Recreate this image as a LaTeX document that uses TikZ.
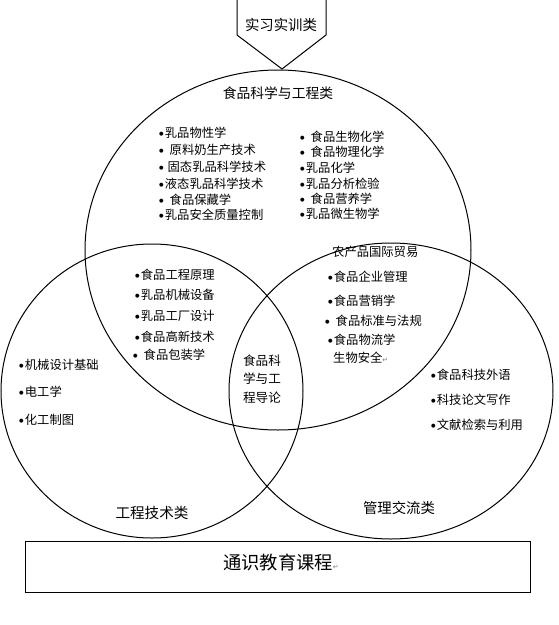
\documentclass[tikz,border=0pt]{standalone}
\usepackage{fontspec}
\setmainfont{Noto Sans CJK SC}
\newfontfamily\dvfont{DejaVu Sans}
\newcommand\bu{\raisebox{2.4pt}{\dvfont\fontsize{5.2}{5.2}\selectfont ●}\hspace{1.2pt}}
\newcommand\rmark{{\dvfont\fontsize{7}{7}\selectfont\color{gray}↵}}
\begin{document}
\begin{tikzpicture}[x=1pt,y=-1pt,
  shapeline/.style={line width=1pt,draw=black},
  itm/.style={anchor=west,inner sep=0pt,font=\fontsize{12.3}{12.3}\selectfont},
  ttl/.style={inner sep=0pt,font=\fontsize{13.8}{13.8}\selectfont},
  ]
\useasboundingbox (0,0) rectangle (559,625);
% circles
\draw[shapeline] (278,250) ellipse [x radius=193, y radius=180];
\draw[shapeline] (152,391) ellipse [x radius=151, y radius=147];
\draw[shapeline] (391,391) ellipse [x radius=162, y radius=148];
% pentagon
\draw[shapeline] (237,-1) -- (237,35) -- (282,69) -- (326,35) -- (326,-1);
\node[ttl,font=\fontsize{14.4}{14.4}\selectfont] (shixi) at (281,25) {实习实训类};
% bottom box
\draw[shapeline] (25,541) rectangle (530,592);
\node[inner sep=0pt,font=\fontsize{18.3}{18.3}\selectfont] (tongshi) at (281,563) {通识教育课程\rmark};
% titles
\node[ttl] (t1) at (278,93) {食品科学与工程类};
\node[ttl,font=\fontsize{14.6}{14.6}\selectfont] (t2) at (152,513) {工程技术类};
\node[ttl,font=\fontsize{14.4}{14.4}\selectfont] (t3) at (399,508) {管理交流类};
% top circle left list
\node[itm] (a1) at (159,133) {\bu 乳品物性学};
\node[itm] (a2) at (159,150) {\bu\, 原料奶生产技术};
\node[itm] (a3) at (159,167) {\bu\ 固态乳品科学技术};
\node[itm] (a4) at (159,184) {\bu 液态乳品科学技术};
\node[itm] (a5) at (159,200) {\bu\, 食品保藏学};
\node[itm] (a6) at (159,215) {\bu 乳品安全质量控制};
% top circle right list
\node[itm] (b1) at (300,137) {\bu\, 食品生物化学};
\node[itm] (b2) at (300,152) {\bu\, 食品物理化学};
\node[itm] (b3) at (300,168) {\bu 乳品化学};
\node[itm] (b4) at (300,184) {\bu 乳品分析检验};
\node[itm] (b5) at (300,199) {\bu\, 食品营养学};
\node[itm] (b6) at (300,214) {\bu 乳品微生物学};
% top-left intersection
\node[itm] (c1) at (135,275) {\bu 食品工程原理};
\node[itm] (c2) at (135,295) {\bu 乳品机械设备};
\node[itm] (c3) at (135,316) {\bu 乳品工厂设计};
\node[itm] (c4) at (135,337) {\bu 食品高新技术};
\node[itm] (c5) at (133,355) {\bu\, 食品包装学};
% top-right intersection
\node[itm] (d0) at (332,252) {农产品国际贸易};
\node[itm] (d1) at (328,277) {\bu 食品企业管理};
\node[itm] (d2) at (328,301) {\bu 食品营销学};
\node[itm] (d3) at (325,321) {\bu\, 食品标准与法规};
\node[itm] (d4) at (328,340) {\bu 食品物流学};
\node[itm] (d5) at (333,358) {生物安全\rmark};
% center
\node[inner sep=0pt,align=left,font=\fontsize{12.6}{18.2}\selectfont] (cen) at (262,379) {食品科\\学与工\\程导论};
% left circle
\node[itm] (e1) at (19,365) {\bu 机械设计基础};
\node[itm] (e2) at (19,392) {\bu 电工学};
\node[itm] (e3) at (19,420) {\bu 化工制图};
% right circle
\node[itm] (f1) at (431,375) {\bu 食品科技外语};
\node[itm] (f2) at (431,400) {\bu 科技论文写作};
\node[itm] (f3) at (431,425) {\bu 文献检索与利用};
\end{tikzpicture}
\end{document}
